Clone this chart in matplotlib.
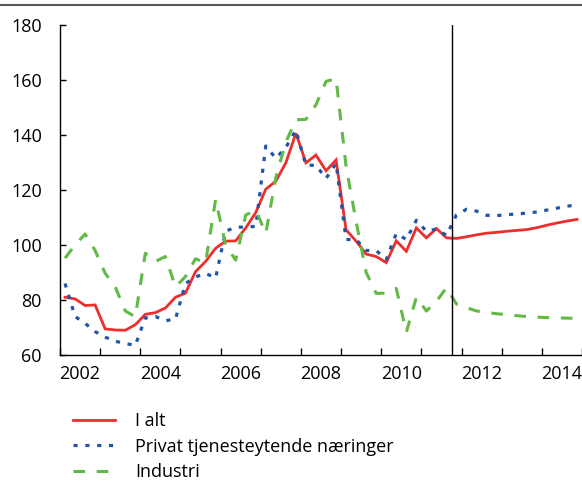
import matplotlib
matplotlib.use("Agg")
import matplotlib.pyplot as plt
from matplotlib.lines import Line2D
import numpy as np

plt.rcParams['font.family'] = ['Open Sans', 'DejaVu Sans']

# Quarterly data 2002Q1 - 2014Q4
start_year = 2002
n_quarters = 52

i_alt = [81.0, 80.4, 78.0, 78.2, 69.5, 69.1, 69.0, 71.0,
         74.8, 75.4, 77.1, 81.0, 82.5, 90.3, 94.0, 98.8,
         101.4, 101.5, 106.2, 111.8, 120.3, 123.2, 129.9, 140.6,
         129.9, 132.7, 127.0, 130.9, 105.5, 101.4, 96.7, 95.8,
         93.6, 101.5, 97.7, 106.2, 102.6, 106.0, 102.6, 102.4,
         103.0, 103.7, 104.3, 104.6, 105.0, 105.3, 105.6, 106.3,
         107.2, 108.0, 108.7, 109.3]

privat = [86.0, 74.0, 71.5, 68.5, 66.5, 65.0, 64.2, 63.5,
          73.5, 74.0, 72.5, 73.0, 86.0, 88.4, 89.7, 88.0,
          105.0, 106.5, 106.5, 106.8, 136.0, 131.5, 135.5, 141.8,
          129.0, 129.0, 124.2, 129.7, 102.0, 102.0, 98.0, 98.0,
          94.7, 104.2, 102.0, 109.0, 105.0, 105.8, 103.5, 111.0,
          113.0, 112.3, 110.8, 110.7, 111.0, 111.3, 111.6, 112.0,
          112.7, 113.4, 114.1, 114.6]

industri = [95.2, 100.0, 104.0, 98.0, 89.7, 84.8, 76.0, 73.9,
            97.0, 94.0, 95.8, 84.8, 88.5, 95.0, 93.5, 116.5,
            100.0, 94.5, 110.9, 112.7, 104.2, 124.5, 137.5, 145.5,
            145.7, 151.0, 159.5, 160.5, 128.5, 108.5, 90.0, 82.4,
            82.5, 84.2, 68.3, 81.0, 76.0, 79.5, 84.5, 78.5,
            77.2, 76.0, 75.5, 75.0, 74.7, 74.3, 74.0, 73.8,
            73.6, 73.5, 73.4, 73.3]

labels = ['I alt', 'Privat tjenesteytende næringer', 'Industri']
year_labels = ['2002', '2004', '2006', '2008', '2010', '2012', '2014']
y_ticks = [60, 80, 100, 120, 140, 160, 180]
forecast_start = 2011.75

t = start_year + (np.arange(n_quarters) + 0.5) / 4.0

red = '#ee2d2d'
blue = '#2156a6'
green = '#62b946'

fig = plt.figure(figsize=(5.82, 4.86), dpi=100)
ax = fig.add_axes([60/582, 1-355/486, 522/582, 330/486])

ax.plot(t, i_alt, color=red, lw=2.0, solid_joinstyle='miter', label=labels[0])
ax.plot(t, privat, color=blue, lw=2.3, linestyle=(0, (1.3, 2.4)),
        dash_capstyle='butt', label=labels[1])
ax.plot(t, industri, color=green, lw=2.2, linestyle=(0, (3.8, 3.8)),
        dash_capstyle='butt', label=labels[2])

ax.axvline(forecast_start, color='black', lw=1.0)

ax.set_xlim(2002, 2015)
ax.set_ylim(60, 180)
ax.set_yticks(y_ticks)
ax.set_yticklabels([str(v) for v in y_ticks])

ax.set_xticks(np.arange(2002, 2016))
ax.set_xticklabels([])
ax.set_xticks([int(y) + 0.5 for y in year_labels], minor=True)
ax.set_xticklabels(year_labels, minor=True)
ax.tick_params(axis='x', which='major', direction='in', length=5, width=1)
ax.tick_params(axis='x', which='minor', length=0, pad=7, labelsize=13)
ax.tick_params(axis='y', direction='in', length=4, width=1, pad=13, labelsize=13)

for s in ['top', 'right']:
    ax.spines[s].set_visible(False)
for s in ['left', 'bottom']:
    ax.spines[s].set_linewidth(1.0)

fig.add_artist(Line2D([0, 1], [1-5/486, 1-5/486], transform=fig.transFigure,
                      color='#555555', lw=1.5))

fig.legend(loc='upper left', bbox_to_anchor=(73/582, 1-412/486),
           frameon=False, fontsize=13, handlelength=2.3, handletextpad=1.15,
           labelspacing=0.42, borderpad=0, borderaxespad=0)

fig.savefig('out.png', dpi=100)
